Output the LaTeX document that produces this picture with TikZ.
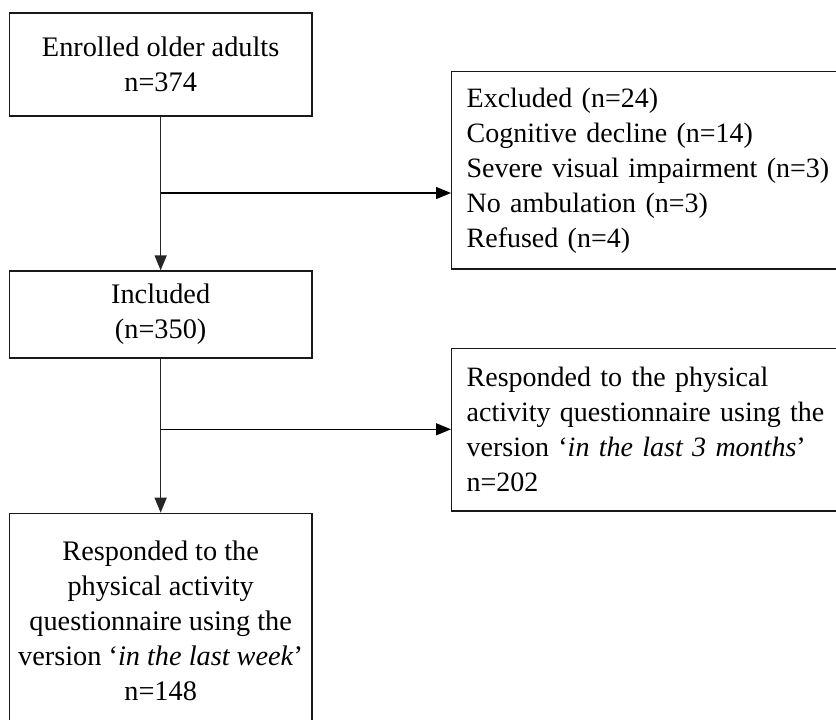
\documentclass[tikz,border=0pt]{standalone}
\usepackage{fontspec}
\setmainfont{Liberation Serif}
\usetikzlibrary{arrows.meta}

\tikzset{
  boxline/.style={draw=black!90, line width=1.3pt},
  stagebox/.style={boxline, minimum width=302.7pt, align=center, inner sep=0pt,
    font=\fontsize{28.3}{35}\selectfont},
  sidebox/.style={boxline, anchor=west, text width=390pt, inner xsep=15pt, inner ysep=0pt,
    align=left, font=\fontsize{28}{35}\selectfont},
  flowarrow/.style={draw=black!85, line width=1.5pt, -{Triangle[length=15pt, width=12pt]}},
  branchline/.style={draw=black, line width=1.2pt, -{Triangle[length=15pt, width=12pt]}}
}

\begin{document}
\begin{tikzpicture}[x=1pt, y=-1pt]
		%%%%% FRAME %%%%%
		\useasboundingbox (0, 0) rectangle (836, 720);
		\clip (0, 0) rectangle (836, 720);
		
		%%%%% MAIN COLUMN %%%%%
		\node[stagebox, minimum height=103pt] (enrolled) at (160.65, 64.5) {Enrolled older adults\\n=374};
		\node[stagebox, minimum height=87pt] (included) at (160.65, 314.5) {Included\\(n=350)};
		\node[stagebox, minimum height=214pt, anchor=north] (lastweek) at (160.65, 512.7)
			{Responded to the\\physical activity\\questionnaire using the\\version `\textit{in the last week}'\\n=148};
		
		%%%%% SIDE BOXES %%%%%
		\node[sidebox, minimum height=197.3pt] (excluded) at (451, 170.3)
			{Excluded (n=24)\\Cognitive decline (n=14)\\Severe visual impairment (n=3)\\No ambulation (n=3)\\Refused (n=4)};
		\node[sidebox, minimum height=162.7pt] (lastmonths) at (451, 429.7)
			{Responded to the physical\\activity questionnaire using the\\version `\textit{in the last 3 months}'\\n=202};
		
		%%%%% CONNECTORS %%%%%
		\coordinate (split1) at (160.65, 193);
		\coordinate (split2) at (160.65, 429.3);
		
		\draw[flowarrow] (enrolled.south) -- (included.north);
		\draw[flowarrow] (included.south) -- (lastweek.north);
		\draw[branchline] (split1) -- (split1 -| excluded.west);
		\draw[branchline] (split2) -- (split2 -| lastmonths.west);
		
		%%%%% END %%%%%
\end{tikzpicture}
\end{document}
